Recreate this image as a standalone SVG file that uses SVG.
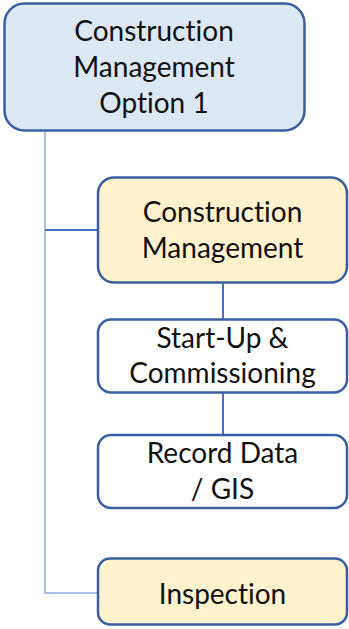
<svg xmlns="http://www.w3.org/2000/svg" width="349" height="629" viewBox="0 0 349 629">
<style>
.box{stroke:#3a5fa0;stroke-width:2.5}
.blue{fill:#dde8f5}
.yel{fill:#fff2cc}
.wht{fill:#ffffff}
text{font-family:Lato,"Open Sans",sans-serif;font-size:28px;fill:#111;text-anchor:middle;font-variant-ligatures:none}
.c{fill:none;stroke:#4472c4;stroke-width:2}
.l{fill:none;stroke:#8eaadb;stroke-width:1.5}
</style>
<g id="connectors">
<path class="l" d="M45 130V593H98"/>
<path class="c" d="M45 230H98"/>
<path class="c" d="M223 282V320"/>
<path class="c" d="M223 393V435"/>
</g>
<g id="n1">
<rect class="box blue" x="4.5" y="3.5" width="300" height="127" rx="20"/>
<text x="154" y="41">Construction</text>
<text x="154" y="77">Management</text>
<text x="154" y="113">Option 1</text>
</g>
<g id="n2">
<rect class="box yel" x="98" y="177.5" width="249" height="105" rx="16"/>
<text x="222.5" y="222">Construction</text>
<text x="222.5" y="258">Management</text>
</g>
<g id="n3">
<rect class="box wht" x="98" y="319.5" width="249" height="73" rx="13"/>
<text x="222.5" y="348">Start-Up &amp;</text>
<text x="222.5" y="383">Commissioning</text>
</g>
<g id="n4">
<rect class="box wht" x="98" y="435" width="249" height="73" rx="13"/>
<text x="222.5" y="463">Record Data</text>
<text x="222.5" y="499">/ GIS</text>
</g>
<g id="n5">
<rect class="box yel" x="98" y="558.5" width="249" height="66" rx="12"/>
<text x="222.5" y="604">Inspection</text>
</g>
</svg>
